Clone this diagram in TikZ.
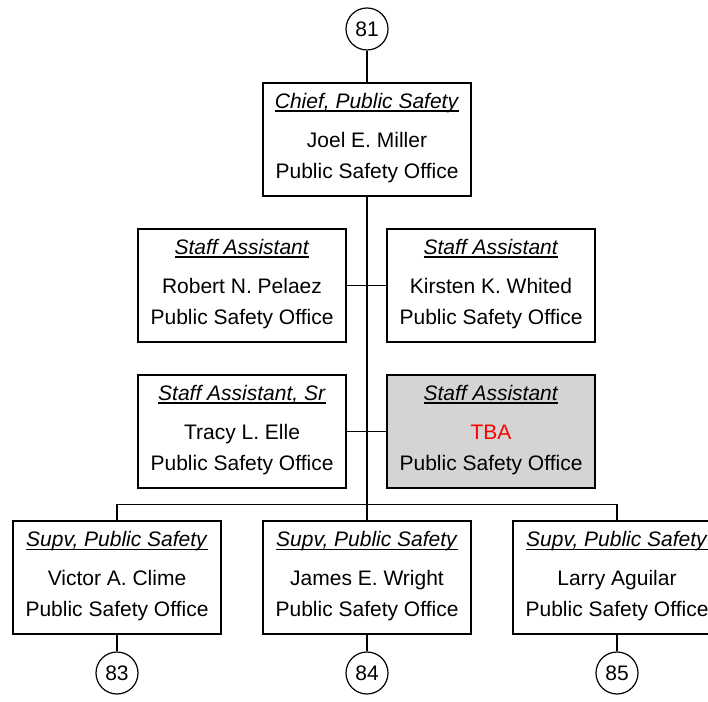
\documentclass[tikz,border=0pt]{standalone}
\usepackage{fontspec}
\setmainfont{Liberation Sans}
\usetikzlibrary{calc}
\definecolor{tbagray}{RGB}{212,212,212}
\newlength\ulw
\newcommand\ttl[1]{\settowidth\ulw{\textit{#1}}\textit{#1}\hspace{-\ulw}\rule[-3.4pt]{\ulw}{1.3pt}}
\begin{document}
\begin{tikzpicture}[x=1pt,y=1pt,
  every node/.style={font=\fontsize{21}{25}\selectfont},
  posbox/.style={draw, line width=1.2pt, minimum width=208pt, minimum height=113pt, inner sep=0pt, fill=white},
  vacant/.style={posbox, fill=tbagray},
  ref/.style={draw, circle, line width=1.2pt, minimum size=42pt, inner sep=0pt},
  txt/.style={anchor=base, inner sep=0pt},
  conn/.style={line width=1.2pt}]
\useasboundingbox (0,0) rectangle (708,701);
\clip (0,0) rectangle (708,701);

% reference circles
\node[ref] (c81) at (367,672) {81};
\node[ref] (c83) at (117,28) {83};
\node[ref] (c84) at (367,28) {84};
\node[ref] (c85) at (617,28) {85};

% boxes
\node[posbox] (chief) at (367,561.5) {};
\node[posbox] (sa1) at (242,415.5) {};
\node[posbox] (sa2) at (491,415.5) {};
\node[posbox] (sas) at (242,269.5) {};
\node[vacant] (sa3) at (491,269.5) {};
\node[posbox] (sv1) at (117,123.5) {};
\node[posbox] (sv2) at (367,123.5) {};
\node[posbox] (sv3) at (617,123.5) {};

% connectors
\draw[conn] (c81) -- (chief.north);
\draw[conn] (chief.south) -- (sv2.north);
\draw[conn] (sa1.east) -- (sa2.west);
\draw[conn] (sas.east) -- (sa3.west);
\coordinate (busl) at ($(sv1.north)+(0,16)$);
\draw[conn] (sv1.north) -- (busl) -| (sv3.north);
\draw[conn] (sv1.south) -- (c83);
\draw[conn] (sv2.south) -- (c84);
\draw[conn] (sv3.south) -- (c85);

% texts
\foreach \b/\t/\n/\o in {chief/{Chief, Public Safety}/{Joel E. Miller}/{Public Safety Office},
  sa1/{Staff Assistant}/{Robert N. Pelaez}/{Public Safety Office},
  sa2/{Staff Assistant}/{Kirsten K. Whited}/{Public Safety Office},
  sas/{Staff Assistant, Sr}/{Tracy L. Elle}/{Public Safety Office},
  sa3/{Staff Assistant}/{\textcolor{red}{TBA}}/{Public Safety Office},
  sv1/{Supv, Public Safety}/{Victor A. Clime}/{Public Safety Office},
  sv2/{Supv, Public Safety}/{James E. Wright}/{Public Safety Office},
  sv3/{Supv, Public Safety}/{Larry Aguilar}/{Public Safety Office}}{
  \node[txt] (\b-t) at ($(\b.north)+(0,-26)$) {\ttl{\t}};
  \node[txt] (\b-n) at ($(\b.north)+(0,-65)$) {\n};
  \node[txt] (\b-o) at ($(\b.north)+(0,-96)$) {\o};
}
\end{tikzpicture}
\end{document}
